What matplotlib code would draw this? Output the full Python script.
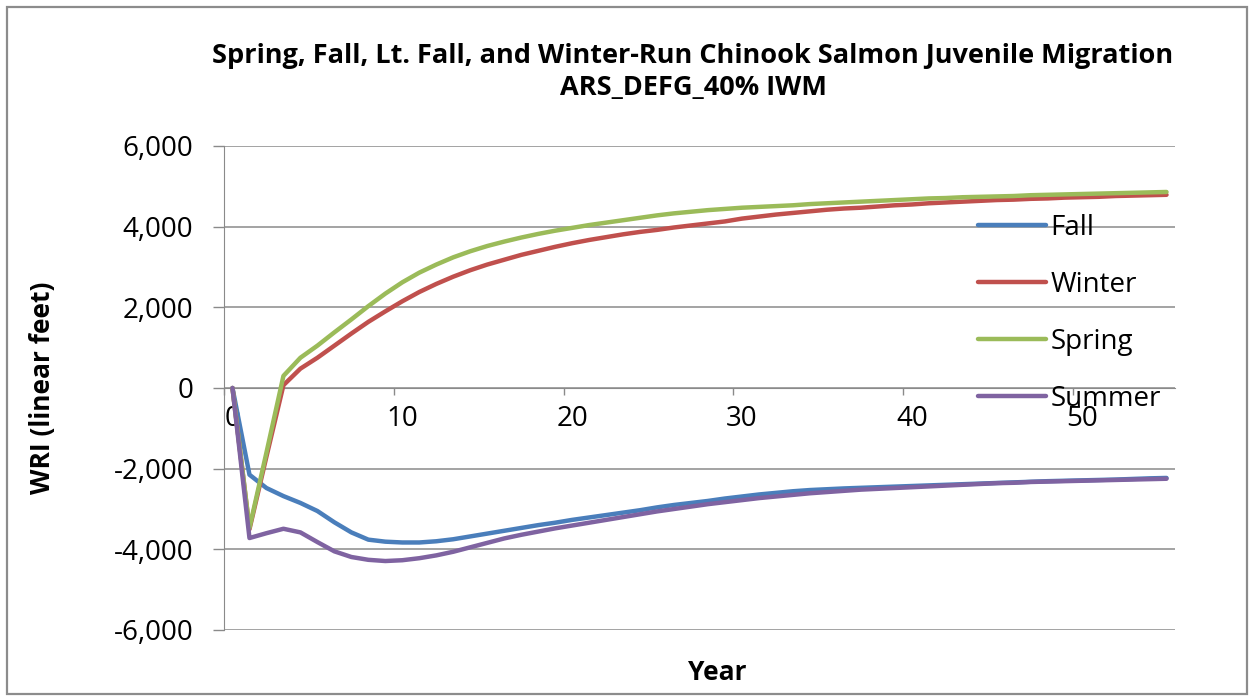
import matplotlib
matplotlib.use("Agg")
import matplotlib.pyplot as plt
from matplotlib.patches import Rectangle
from matplotlib.ticker import FuncFormatter
import numpy as np

plt.rcParams['font.family'] = ['Open Sans', 'DejaVu Sans']

# years 0..55 (Excel-style category axis)
years = np.arange(56)

fall = [0, -2150, -2480, -2680, -2850, -3050, -3330, -3580, -3760, -3810,
        -3830, -3830, -3800, -3750, -3680, -3610, -3540, -3470, -3400, -3340,
        -3270, -3210, -3150, -3090, -3030, -2960, -2900, -2850, -2800, -2740,
        -2690, -2640, -2600, -2560, -2530, -2510, -2490, -2475, -2460, -2445,
        -2430, -2415, -2400, -2385, -2370, -2355, -2340, -2325, -2310, -2300,
        -2290, -2280, -2270, -2255, -2240, -2230]
winter = [0, -3500, -1700, 70, 480, 750, 1050, 1350, 1640, 1900,
          2150, 2380, 2580, 2760, 2920, 3060, 3180, 3300, 3400, 3500,
          3590, 3670, 3740, 3810, 3870, 3920, 3980, 4030, 4080, 4130,
          4200, 4250, 4300, 4340, 4380, 4420, 4450, 4470, 4500, 4530,
          4550, 4580, 4600, 4620, 4640, 4660, 4670, 4690, 4700, 4720,
          4730, 4740, 4760, 4770, 4780, 4790]
spring = [0, -3470, -1600, 300, 750, 1050, 1380, 1700, 2030, 2340,
          2620, 2860, 3060, 3240, 3390, 3520, 3630, 3730, 3820, 3900,
          3970, 4040, 4100, 4160, 4220, 4280, 4330, 4370, 4410, 4440,
          4470, 4490, 4510, 4530, 4560, 4580, 4600, 4620, 4640, 4660,
          4680, 4700, 4710, 4730, 4740, 4750, 4760, 4780, 4790, 4800,
          4810, 4820, 4830, 4840, 4850, 4860]
summer = [0, -3720, -3600, -3490, -3580, -3820, -4050, -4190, -4260, -4290,
          -4270, -4220, -4150, -4060, -3950, -3840, -3730, -3640, -3560, -3480,
          -3410, -3340, -3270, -3200, -3130, -3060, -3000, -2940, -2880, -2830,
          -2780, -2730, -2690, -2650, -2610, -2580, -2550, -2520, -2500, -2480,
          -2460, -2440, -2420, -2400, -2380, -2360, -2350, -2330, -2320, -2310,
          -2300, -2290, -2280, -2270, -2260, -2250]

series_names = ["Fall", "Winter", "Spring", "Summer"]
series_colors = ["#4a7ebb", "#c0504d", "#9bbb59", "#7f63a1"]

y_ticks = [-6000, -4000, -2000, 0, 2000, 4000, 6000]
x_labels = [0, 10, 20, 30, 40, 50]

title = ("Spring, Fall, Lt. Fall, and Winter-Run Chinook Salmon Juvenile Migration\n"
         "ARS_DEFG_40% IWM")

fig = plt.figure(figsize=(12.49, 6.96), dpi=100)
ax = fig.add_axes([224 / 1249, 1 - 630 / 696, (1175 - 224) / 1249, (630 - 146) / 696])

for vals, name, c in zip([fall, winter, spring, summer], series_names, series_colors):
    ax.plot(years, vals, color=c, lw=3.2, label=name, solid_capstyle="round", zorder=3)

ax.set_xlim(-0.5, 55.5)
ax.set_ylim(-6000, 6000)

grid_c = "#8a8a8a"
ax.set_yticks(y_ticks)
ax.yaxis.set_major_formatter(FuncFormatter(lambda v, p: f"{int(v):,}"))
ax.yaxis.grid(True, color=grid_c, lw=1.1)
ax.set_axisbelow(True)

# labels sit on category centres, tick marks on category boundaries
ax.set_xticks(x_labels)
ax.set_xticks(np.arange(-0.5, 56, 10), minor=True)
ax.tick_params(axis="x", which="major", length=0, pad=12, labelsize=20)
ax.tick_params(axis="x", which="minor", length=5, width=1, color=grid_c, direction="out")
ax.tick_params(axis="y", length=8, width=1, color=grid_c, pad=14, labelsize=20)

ax.spines["bottom"].set_position(("data", 0))
ax.spines["bottom"].set_color(grid_c)
ax.spines["left"].set_color(grid_c)
ax.spines["right"].set_visible(False)
ax.spines["top"].set_visible(False)

fig.text(693 / 1249, 1 - 72 / 696, title, ha="center", va="center",
         fontsize=19.5, fontweight="bold", linespacing=1.3)
fig.text(43 / 1249, 1 - 388 / 696, "WRI (linear feet)", rotation=90, ha="center",
         va="center", fontsize=19, fontweight="bold")
fig.text(717 / 1249, 1 - 672 / 696, "Year", ha="center", va="center",
         fontsize=19, fontweight="bold")

ax.legend(loc="upper left", bbox_to_anchor=(978 / 1249, 1 - 214 / 696),
          bbox_transform=fig.transFigure, frameon=False, fontsize=20,
          handlelength=2.45, handletextpad=0.15, labelspacing=1.04,
          borderpad=0, borderaxespad=0)

fig.add_artist(Rectangle((7 / 1249, 2 / 696), 1240 / 1249, 687 / 696,
                         transform=fig.transFigure, fill=False,
                         edgecolor="#8c8c8c", lw=1.6))

fig.savefig("out.png", dpi=100)
